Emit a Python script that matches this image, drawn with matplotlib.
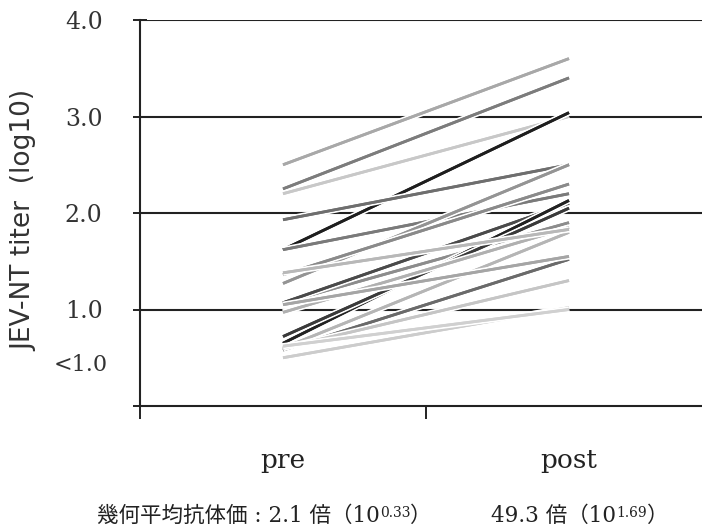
import matplotlib
matplotlib.use('Agg')
import matplotlib.pyplot as plt
import matplotlib.patheffects as pe

# pre / post titers (log10), one pair per subject
pre_titer = [2.50, 2.25, 2.20, 1.62, 1.62, 1.93, 1.27, 1.36, 1.07, 1.07,
             0.65, 0.72, 0.58, 0.60, 0.50, 0.97, 0.60, 1.38, 0.62, 1.05]
post_titer = [3.60, 3.40, 3.00, 3.04, 2.20, 2.50, 2.50, 2.30, 1.90, 2.10,
              2.13, 2.05, 1.52, 1.80, 1.02, 1.85, 1.30, 1.83, 1.00, 1.55]
# grey level of each subject's line
shade = ['#a8a8a8', '#7c7c7c', '#c8c8c8', '#1e1e1e', '#7a7a7a', '#6e6e6e',
         '#949494', '#8a8a8a', '#8c8c8c', '#4a4a4a', '#222222', '#3a3a3a',
         '#6a6a6a', '#b5b5b5', '#cccccc', '#b0b0b0', '#c5c5c5', '#b8b8b8',
         '#d0d0d0', '#a5a5a5']

groups = ['pre', 'post']
ytick_vals = [0, 1, 2, 3, 4]
ytick_labels = ['', '1.0', '2.0', '3.0', '4.0']
below_label = '<1.0'
gmt_text = [('幾何平均抗体価 : 2.1 倍（10', '0.33', '）'),
            ('49.3 倍（10', '1.69', '）')]

serif = 'DejaVu Serif'
mixed = ['DejaVu Serif', 'Noto Sans CJK JP']
ink = '#222222'

fig = plt.figure(figsize=(7.02, 5.32), dpi=100)
ax = fig.add_axes([140/702, 126/532, 562/702, 386/532])
ax.set_xlim(0, 1.965)
ax.set_ylim(0, 4.0)

for y in ytick_vals[1:]:
    ax.axhline(y, color=ink, lw=1.5, zorder=1)

for p, q, c in zip(pre_titer, post_titer, shade):
    ax.plot([0.5, 1.5], [p, q], color=c, lw=2.0, solid_capstyle='butt', zorder=3,
            path_effects=[pe.withStroke(linewidth=4.5, foreground='white'), pe.Normal()])

for s in ['top', 'right']:
    ax.spines[s].set_visible(False)
for s in ['left', 'bottom']:
    ax.spines[s].set_color(ink)
    ax.spines[s].set_linewidth(1.5)

ax.set_yticks(ytick_vals)
ax.set_yticklabels(ytick_labels, fontfamily=serif, fontsize=17, color='#333333')
ax.set_yticks([0.45], minor=True)
ax.set_yticklabels([below_label], minor=True, fontfamily=serif, fontsize=16, color='#333333')
ax.tick_params(axis='y', which='major', direction='inout', length=10, width=1.4,
               color=ink, pad=22)
ax.tick_params(axis='y', which='minor', length=0, pad=23)

ax.set_xticks([0, 1])
ax.set_xticklabels(['', ''])
ax.set_xticks([0.5, 1.5], minor=True)
ax.set_xticklabels(groups, minor=True, fontfamily=serif, fontsize=19, color='#222222')
ax.tick_params(axis='x', which='major', direction='out', length=9, width=1.4, color=ink)
ax.tick_params(axis='x', which='minor', length=0, pad=30)

ax.set_ylabel('JEV-NT titer  (log10)', fontsize=19, family='DejaVu Sans',
              color='#333333', va='center')
ax.yaxis.set_label_coords(-0.206, 0.48)

for xpix, (base, sup, tail) in zip([97, 491], gmt_text):
    t1 = fig.text(xpix/702, 16/532, base, fontsize=15.5, family=mixed,
                  va='center', ha='left', color='#222222')
    t2 = ax.annotate(sup, xy=(1, 0.45), xycoords=t1, va='baseline', ha='left',
                     fontsize=10, family=mixed, color='#222222', annotation_clip=False)
    ax.annotate(tail, xy=(1, 0), xycoords=(t2, t1), va='bottom', ha='left',
                fontsize=15.5, family=mixed, color='#222222', annotation_clip=False)

fig.savefig('out.png', dpi=100)
